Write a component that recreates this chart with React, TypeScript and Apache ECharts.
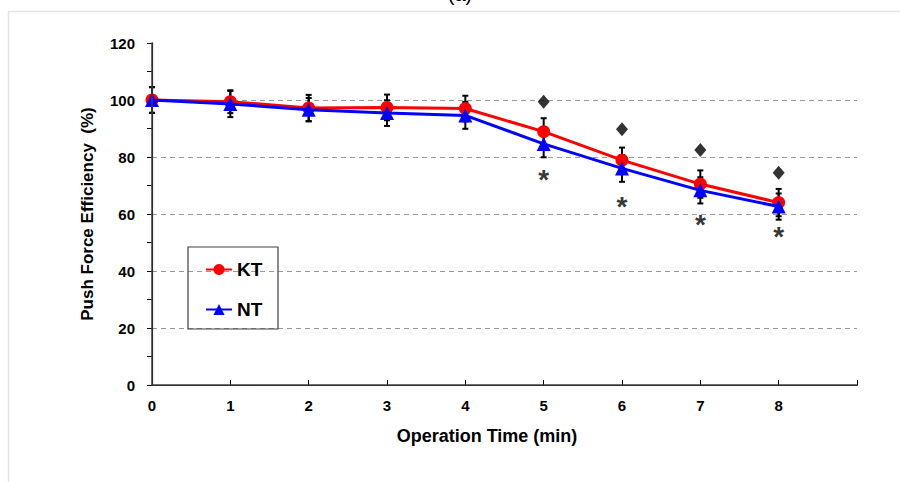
import React, { useEffect, useRef } from "react";
import * as echarts from "echarts";

const times = [0, 1, 2, 3, 4, 5, 6, 7, 8];
const ktValues = [100, 99.4, 97.2, 97.4, 97.0, 88.9, 78.9, 70.5, 64.0];
const ntValues = [100, 98.6, 96.6, 95.4, 94.6, 84.6, 76.0, 68.3, 62.6];
const ktErr = [4.5, 4.0, 4.6, 4.5, 4.5, 4.7, 4.4, 4.8, 4.8];
const ntErr = [4.5, 4.6, 4.1, 4.5, 4.7, 4.7, 4.7, 4.6, 4.6];
const diamondTimes = [5, 6, 7, 8];
const diamondValues = [99.4, 89.7, 82.5, 74.5];
const starTimes = [5, 6, 7, 8];
const starValues = [73.9, 64.3, 57.9, 53.8];
const xTickLabels = ["0", "1", "2", "3", "4", "5", "6", "7", "8"];

const FONT = "'Liberation Sans', Arial, sans-serif";

export default function App() {
  const ref = useRef<HTMLDivElement>(null);
  useEffect(() => {
    if (!ref.current) return;
    const chart = echarts.init(ref.current, null, { renderer: "svg" });
    const errData: number[][] = [];
    times.forEach((t, i) => {
      errData.push([t, ktValues[i] - ktErr[i], ktValues[i] + ktErr[i]]);
      errData.push([t, ntValues[i] - ntErr[i], ntValues[i] + ntErr[i]]);
    });
    const option: any = {
      animation: false,
      backgroundColor: "#ffffff",
      grid: { left: 152, right: 43, top: 43, bottom: 97, containLabel: false },
      legend: {
        left: 200,
        top: 255,
        orient: "vertical",
        itemWidth: 26,
        itemHeight: 14,
        itemGap: 21,
        data: ["KT", "NT"],
        textStyle: { fontFamily: FONT, fontWeight: "bold", fontSize: 19, color: "#000" },
      },
      graphic: [
        { type: "line", shape: { x1: 8.5, y1: 11, x2: 8.5, y2: 482 }, style: { stroke: "#e4e4e4", lineWidth: 1.5 } },
        { type: "line", shape: { x1: 8, y1: 11.5, x2: 900, y2: 11.5 }, style: { stroke: "#e4e4e4", lineWidth: 1.5 } },
        { type: "text", x: 460, y: -16, style: { text: "(a)", fontSize: 20, fontFamily: FONT, fill: "#000", textAlign: "center" } },
        { type: "rect", shape: { x: 188, y: 247, width: 90, height: 82 }, style: { fill: "none", stroke: "#404040", lineWidth: 1.2 }, z: 10 },
      ],
      xAxis: [
        {
          type: "value",
          min: 0,
          max: 9,
          interval: 1,
          name: "Operation Time (min)",
          nameLocation: "middle",
          nameGap: 42,
          nameTextStyle: { fontFamily: FONT, fontWeight: "bold", fontSize: 18, color: "#000", padding: [0, 35, 0, 0] },
          axisLine: { show: true, lineStyle: { color: "#000", width: 1.2 } },
          axisTick: { show: true, inside: true, length: 5, lineStyle: { color: "#000" } },
          axisLabel: {
            fontFamily: FONT,
            fontWeight: "bold",
            fontSize: 15,
            color: "#000",
            margin: 13,
            formatter: (v: number) => (v <= 8 ? xTickLabels[v] : ""),
          },
          splitLine: { show: false },
        },
        {
          type: "value",
          position: "top",
          min: 0,
          max: 9,
          interval: 1,
          z: 5,
          axisLine: { show: true, lineStyle: { color: "#404040", width: 1.5 } },
          axisTick: { show: false },
          axisLabel: { show: false },
          splitLine: { show: false },
        },
      ],
      yAxis: [
        {
          type: "value",
          min: 0,
          max: 120,
          interval: 20,
          name: "Push Force Efficiency  (%)",
          nameLocation: "middle",
          nameGap: 56,
          nameRotate: 90,
          nameTextStyle: { fontFamily: FONT, fontWeight: "bold", fontSize: 17, color: "#000" },
          axisLine: { show: true, lineStyle: { color: "#000", width: 1.2 } },
          axisTick: { show: true, inside: false, length: 5, lineStyle: { color: "#000" } },
          minorTick: { show: true, splitNumber: 2, length: 5, lineStyle: { color: "#000" } },
          axisLabel: { fontFamily: FONT, fontWeight: "bold", fontSize: 15, color: "#000", margin: 17 },
          splitLine: {
            show: true,
            showMinLine: false,
            showMaxLine: false,
            lineStyle: { color: "#999999", type: [5, 4], width: 1.2 },
          },
        },
        {
          type: "value",
          position: "right",
          min: 0,
          max: 120,
          interval: 20,
          z: 5,
          axisLine: { show: true, lineStyle: { color: "#404040", width: 1.5 } },
          axisTick: { show: false },
          axisLabel: { show: false },
          splitLine: { show: false },
        },
      ],
      series: [
        {
          type: "custom",
          name: "err",
          z: 1,
          data: errData,
          renderItem: (params: any, api: any) => {
            const x = api.value(0);
            const lo = api.value(1);
            const hi = api.value(2);
            const p1 = api.coord([x, hi]);
            const p2 = api.coord([x, lo]);
            const w = 3;
            const st = { stroke: "#000", lineWidth: 2 };
            return {
              type: "group",
              children: [
                { type: "line", shape: { x1: p1[0], y1: p1[1], x2: p2[0], y2: p2[1] }, style: st },
                { type: "line", shape: { x1: p1[0] - w, y1: p1[1], x2: p1[0] + w, y2: p1[1] }, style: st },
                { type: "line", shape: { x1: p2[0] - w, y1: p2[1], x2: p2[0] + w, y2: p2[1] }, style: st },
              ],
            };
          },
        },
        {
          type: "line",
          name: "KT",
          z: 3,
          data: times.map((t, i) => [t, ktValues[i]]),
          symbol: "circle",
          symbolSize: 13,
          lineStyle: { color: "#ff0000", width: 3 },
          itemStyle: { color: "#ff0000" },
        },
        {
          type: "line",
          name: "NT",
          z: 4,
          data: times.map((t, i) => [t, ntValues[i]]),
          symbol: "triangle",
          symbolSize: 14,
          lineStyle: { color: "#0000ff", width: 3 },
          itemStyle: { color: "#0000ff" },
        },
        {
          type: "scatter",
          name: "sig1",
          z: 4,
          data: diamondTimes.map((t, i) => [t, diamondValues[i]]),
          symbol: "diamond",
          symbolSize: [12, 14],
          itemStyle: { color: "#000" },
        },
        {
          type: "scatter",
          name: "sig2",
          z: 4,
          data: starTimes.map((t, i) => [t, starValues[i]]),
          symbol: "circle",
          symbolSize: 1,
          itemStyle: { color: "rgba(0,0,0,0)" },
          label: {
            show: true,
            position: "inside",
            formatter: "*",
            fontFamily: FONT,
            fontWeight: "bold",
            fontSize: 28,
            color: "#000",
            offset: [0, 5],
          },
        },
      ],
    };
    chart.setOption(option);
    return () => chart.dispose();
  }, []);
  return (
    <div
      ref={ref}
      style={{ position: "absolute", left: 0, top: 0, width: 900, height: 482, background: "#fff" }}
    />
  );
}
